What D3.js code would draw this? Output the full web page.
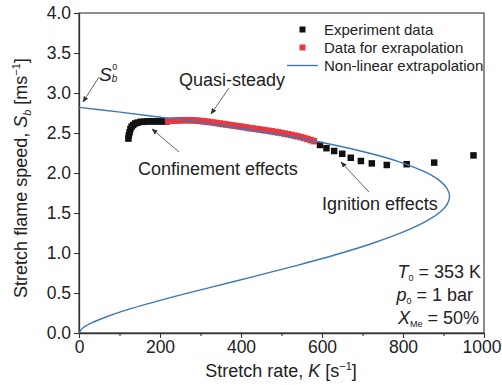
<!DOCTYPE html>
<html>
<head>
<meta charset="utf-8">
<script src="https://cdn.jsdelivr.net/npm/d3@7"></script>
<style>
  html, body { margin: 0; padding: 0; background: #fff; }
  svg { display: block; font-family: "Liberation Sans", Arial, Helvetica, sans-serif; }
</style>
</head>
<body>
<svg id="chart" width="502" height="385"></svg>
<script>
// Experiment data (black squares): confinement-affected start and ignition-affected tail
const expK  = [122, 123, 125, 127, 130, 134, 139, 145, 152, 160, 168, 176, 184, 192, 200, 208, 216,
               595, 611, 630, 650, 671, 696, 723, 760, 809, 877, 974];
const expSb = [2.43, 2.47, 2.51, 2.55, 2.58, 2.60, 2.62, 2.63, 2.64, 2.64, 2.645, 2.645, 2.645, 2.645, 2.645, 2.645, 2.645,
               2.35, 2.31, 2.275, 2.24, 2.19, 2.15, 2.12, 2.10, 2.11, 2.13, 2.22];

// Quasi-steady range used for the extrapolation (red squares)
const fitK  = [220, 228, 236, 244, 252, 260, 268, 276, 284, 292, 300, 308, 316, 324, 332, 340, 348, 356,
               364, 372, 380, 388, 396, 404, 412, 420, 428, 436, 444, 452, 460, 468, 476, 484, 492, 500,
               508, 516, 524, 532, 540, 548, 556, 564, 572, 580];
const fitSb = [2.650, 2.652, 2.655, 2.657, 2.659, 2.660, 2.660, 2.659, 2.657, 2.654, 2.650, 2.646, 2.641, 2.636, 2.630, 2.624, 2.618, 2.612,
               2.606, 2.600, 2.594, 2.588, 2.582, 2.576, 2.570, 2.563, 2.557, 2.551, 2.545, 2.539, 2.533, 2.527, 2.521, 2.514, 2.507, 2.500,
               2.492, 2.484, 2.476, 2.467, 2.458, 2.448, 2.437, 2.425, 2.412, 2.398];

// Non-linear extrapolation curve: upper branch from S_b^0 down to the turning point, then lower branch to the origin
const curveK  = [0, 96.5, 187, 272, 351, 425, 492, 555, 612, 664, 710, 752, 789, 820, 847, 870, 894, 909, 915,
                 909, 894, 862, 804, 729, 640, 539, 431, 320, 212, 114, 65, 26, 8, 0];
const curveSb = [2.82, 2.764, 2.707, 2.651, 2.594, 2.538, 2.482, 2.425, 2.369, 2.312, 2.256, 2.200, 2.143, 2.087, 2.030, 1.974, 1.889, 1.805, 1.710,
                 1.607, 1.523, 1.410, 1.269, 1.128, 0.987, 0.846, 0.705, 0.564, 0.423, 0.282, 0.197, 0.113, 0.056, 0];

const xTicks = [0, 200, 400, 600, 800, 1000];
const xMinorTicks = [100, 300, 500, 700, 900];
const yTicks = [0, 0.5, 1.0, 1.5, 2.0, 2.5, 3.0, 3.5, 4.0];

const legendItems = ["Experiment data", "Data for exrapolation", "Non-linear extrapolation"];

const svg = d3.select("#chart");
const x = d3.scaleLinear().domain([0, 1000]).range([79, 484]);
const y = d3.scaleLinear().domain([0, 4]).range([333, 13]);

const BLACK = "#111", RED = "#e8383f", BLUE = "#3d78b6", GREY = "#555";

// arrowhead for annotation leaders
svg.append("defs").append("marker")
  .attr("id", "arrow").attr("viewBox", "0 0 10 10")
  .attr("refX", 9).attr("refY", 5)
  .attr("markerWidth", 7).attr("markerHeight", 7)
  .attr("orient", "auto-start-reverse")
  .append("path").attr("d", "M0,1 L10,5 L0,9 Z").attr("fill", "#333");

// plot frame
svg.append("rect")
  .attr("x", x(0)).attr("y", y(4))
  .attr("width", x(1000) - x(0)).attr("height", y(0) - y(4))
  .attr("fill", "none").attr("stroke", "#444").attr("stroke-width", 1.2);

// axes
const xAxis = svg.append("g").attr("transform", `translate(0,${y(0)})`)
  .call(d3.axisBottom(x).tickValues(xTicks).tickSize(5).tickSizeOuter(0).tickPadding(3).tickFormat(d3.format("d")));
svg.append("g").attr("transform", `translate(0,${y(0)})`)
  .call(d3.axisBottom(x).tickValues(xMinorTicks).tickSize(3).tickSizeOuter(0).tickFormat(""))
  .call(g => g.select(".domain").remove());
const yAxis = svg.append("g").attr("transform", `translate(${x(0)},0)`)
  .call(d3.axisLeft(y).tickValues(yTicks).tickSize(5).tickSizeOuter(0).tickPadding(3).tickFormat(d3.format(".1f")));

svg.selectAll(".tick line").attr("stroke", "#333").attr("stroke-width", 1.1);
svg.selectAll(".domain").attr("stroke", "#333").attr("stroke-width", 1.3);
svg.selectAll(".tick text").attr("font-size", 17.5).attr("fill", "#222")
  .attr("font-family", "'Liberation Sans', Arial, sans-serif");
// keep the last x label inside the canvas
xAxis.selectAll(".tick text").filter(d => d === 1000).attr("dx", -2.5);

// axis titles
const xt = svg.append("text").attr("x", 281).attr("y", 377)
  .attr("text-anchor", "middle").attr("font-size", 18).attr("fill", "#222");
xt.append("tspan").text("Stretch rate, ");
xt.append("tspan").attr("font-style", "italic").text("K");
xt.append("tspan").text(" [s");
xt.append("tspan").attr("font-size", 11).attr("dy", -7).text("−1");
xt.append("tspan").attr("dy", 7).text("]");

const yt = svg.append("text").attr("transform", "translate(27,178) rotate(-90)")
  .attr("text-anchor", "middle").attr("font-size", 18).attr("fill", "#222");
yt.append("tspan").text("Stretch flame speed, ");
yt.append("tspan").attr("font-style", "italic").text("S");
yt.append("tspan").attr("font-size", 11).attr("font-style", "italic").attr("dy", 4).text("b");
yt.append("tspan").attr("dy", -4).text(" [ms");
yt.append("tspan").attr("font-size", 11).attr("dy", -7).text("−1");
yt.append("tspan").attr("dy", 7).text("]");

// markers
const sq = 6.5;
const expPts = expK.map((k, i) => ({ k, s: expSb[i] }));
const fitPts = fitK.map((k, i) => ({ k, s: fitSb[i] }));
svg.append("g").selectAll("rect").data(expPts).join("rect")
  .attr("x", d => x(d.k) - sq / 2).attr("y", d => y(d.s) - sq / 2)
  .attr("width", sq).attr("height", sq).attr("fill", BLACK);
svg.append("g").selectAll("rect").data(fitPts).join("rect")
  .attr("x", d => x(d.k) - sq / 2).attr("y", d => y(d.s) - sq / 2)
  .attr("width", sq).attr("height", sq).attr("fill", RED);

// extrapolation curve
const curvePts = curveK.map((k, i) => ({ k, s: curveSb[i] }));
svg.append("path").datum(curvePts)
  .attr("d", d3.line().x(d => x(d.k)).y(d => y(d.s)).curve(d3.curveCatmullRom.alpha(0.5)))
  .attr("fill", "none").attr("stroke", BLUE).attr("stroke-width", 1.4);

// legend
const lg = svg.append("g");
const lx = 302.5, ly0 = 29.5, ldy = 18;
lg.append("rect").attr("x", lx - 3).attr("y", ly0 - 3).attr("width", 6).attr("height", 6).attr("fill", BLACK);
lg.append("rect").attr("x", lx - 3).attr("y", ly0 + ldy - 3).attr("width", 6).attr("height", 6).attr("fill", RED);
lg.append("line").attr("x1", 287).attr("x2", 318).attr("y1", ly0 + 2 * ldy).attr("y2", ly0 + 2 * ldy)
  .attr("stroke", BLUE).attr("stroke-width", 1.4);
lg.selectAll("text").data(legendItems).join("text")
  .attr("x", 324).attr("y", (d, i) => ly0 + i * ldy + 5)
  .attr("font-size", 15).attr("fill", "#222").text(d => d);

// annotations
function leader(x1, y1, x2, y2) {
  svg.append("line").attr("x1", x1).attr("y1", y1).attr("x2", x2).attr("y2", y2)
    .attr("stroke", GREY).attr("stroke-width", 0.9).attr("marker-end", "url(#arrow)");
}
const s0 = svg.append("text").attr("x", 99).attr("y", 81).attr("font-size", 19).attr("fill", "#222");
s0.append("tspan").attr("font-style", "italic").text("S");
s0.append("tspan").attr("font-size", 10).attr("font-style", "italic").attr("dy", 1).text("b");
s0.append("tspan").attr("font-size", 9).attr("dx", -5).attr("dy", -12).text("0");
leader(99, 77, 83, 102);

svg.append("text").attr("x", 179).attr("y", 86).attr("font-size", 18).attr("fill", "#222").text("Quasi-steady");
leader(229, 88, 211, 114);

svg.append("text").attr("x", 138).attr("y", 175).attr("font-size", 18).attr("fill", "#222").text("Confinement effects");
leader(179, 152, 152, 129);

svg.append("text").attr("x", 322).attr("y", 210).attr("font-size", 18).attr("fill", "#222").text("Ignition effects");
leader(369, 192, 341, 162);

// conditions
const cond = svg.append("g").attr("font-size", 18).attr("fill", "#222").attr("text-anchor", "end");
const c1 = cond.append("text").attr("x", 481).attr("y", 278);
c1.append("tspan").attr("font-style", "italic").text("T");
c1.append("tspan").attr("font-size", 9).attr("dy", 3).text("0");
c1.append("tspan").attr("dy", -3).text(" = 353 K");
const c2 = cond.append("text").attr("x", 473).attr("y", 301);
c2.append("tspan").attr("font-style", "italic").text("p");
c2.append("tspan").attr("font-size", 9).attr("dy", 3).text("0");
c2.append("tspan").attr("dy", -3).text(" = 1 bar");
const c3 = cond.append("text").attr("x", 479).attr("y", 324);
c3.append("tspan").attr("font-style", "italic").text("X");
c3.append("tspan").attr("font-size", 9).attr("dy", 3).text("Me");
c3.append("tspan").attr("dy", -3).text(" = 50%");
</script>
</body>
</html>
